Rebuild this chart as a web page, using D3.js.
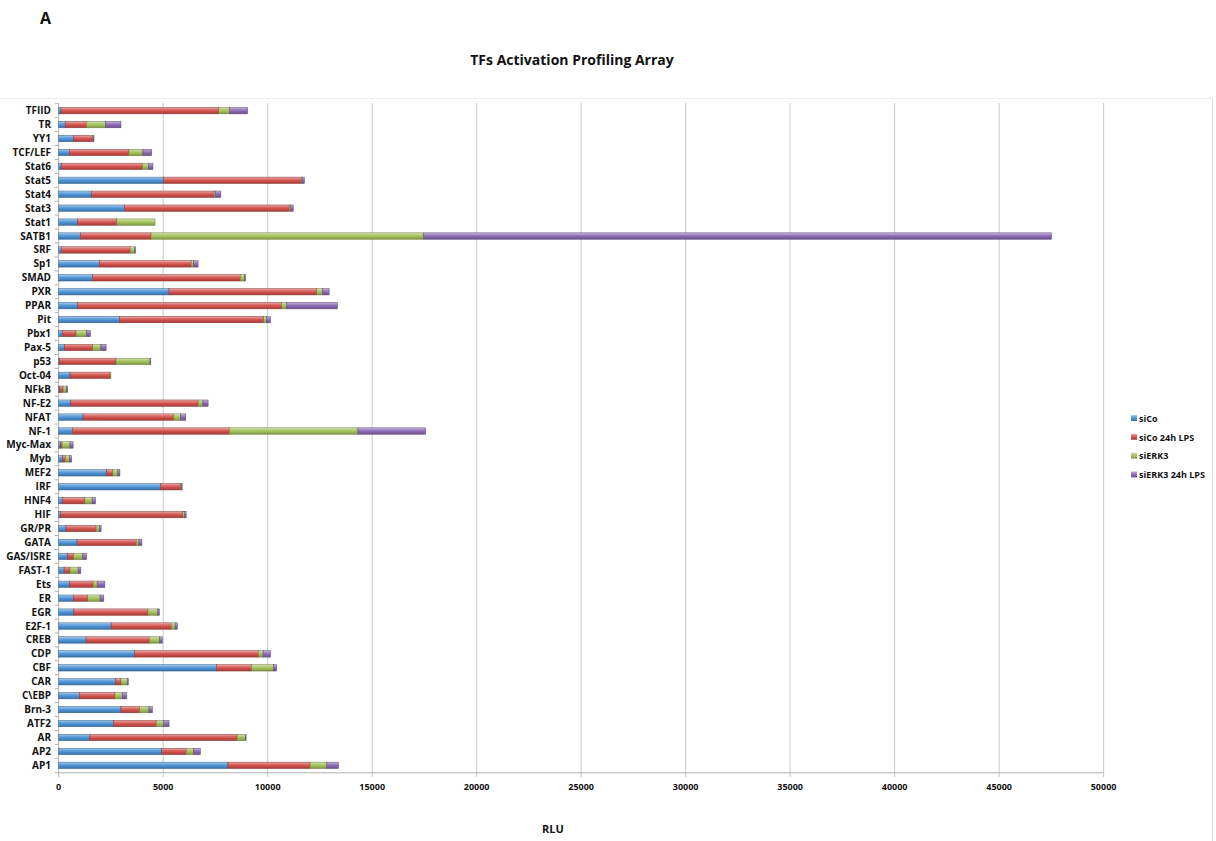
<!DOCTYPE html>
<html>
<head>
<meta charset="utf-8">
<script src="https://cdn.jsdelivr.net/npm/d3@7"></script>
<style>
html,body{margin:0;padding:0;background:#fff;}
svg{display:block;}
text{font-family:"Open Sans","Liberation Sans",sans-serif;font-weight:bold;fill:#111;}
</style>
</head>
<body>
<svg id="chart" width="1216" height="841"></svg>
<script>
// Categories, bottom to top
const categories = ["AP1","AP2","AR","ATF2","Brn-3","C\\EBP","CAR","CBF","CDP","CREB","E2F-1","EGR","ER","Ets","FAST-1","GAS/ISRE","GATA","GR/PR","HIF","HNF4","IRF","MEF2","Myb","Myc-Max","NF-1","NFAT","NF-E2","NFkB","Oct-04","p53","Pax-5","Pbx1","Pit","PPAR","PXR","SMAD","Sp1","SRF","SATB1","Stat1","Stat3","Stat4","Stat5","Stat6","TCF/LEF","YY1","TR","TFIID"];
const seriesNames = ["siCo","siCo 24h LPS","siERK3","siERK3 24h LPS"];
const siCo =        [8100,4930,1490,2620,2980, 990,2720,7540,3630,1310,2510, 720, 700, 510, 260, 430, 880, 350,  80, 190,4880,2290, 180,  80, 660,1170, 580,  30, 540,  30, 270, 180,2910, 900,5280,1620,1940, 130, 1040, 900,3150,1570,5020, 140, 510, 700, 320, 110];
const siCoLPS =     [3930,1170,7050,2050, 890,1700, 260,1680,5920,3030,2880,3550, 690,1140, 280, 290,2830,1440,5860,1060, 960, 300, 140,  80,7500,4330,6090, 180,1920,2710,1360, 650,6900,9770,7070,7070,4400,3290, 3380,1880,7890,5870,6600,3860,2850, 930,1010,7550];
const siERK3 =      [ 800, 360, 390, 340, 450, 350, 300,1050, 230, 490, 180, 470, 590, 190, 390, 420, 130, 150,  90, 350,  30, 240, 190, 380,6160, 340, 230, 160,  20,1630, 390, 500, 130, 240, 270, 210, 120, 210,13045,1830,  60,  60,  30, 290, 670,  20, 910, 520];
const siERK3LPS =   [ 560, 320,  30, 270, 160, 220,  50, 160, 360, 130, 110,  80, 180, 370, 130, 200, 140,  90,  70, 160,  30, 100, 110, 150,3240, 240, 250,  60,   0,  10, 250, 190, 190,2430, 320,  30, 210,  50,30045,   0, 120, 260, 110, 220, 420,  20, 740, 860];
const xTicks = [0,5000,10000,15000,20000,25000,30000,35000,40000,45000,50000];
const colors = ["#4a92d6","#d2504b","#a2c159","#8a68b4"];

const rows = categories.map((c,i)=>({cat:c, siCo:siCo[i], siCoLPS:siCoLPS[i], siERK3:siERK3[i], siERK3LPS:siERK3LPS[i]}));
const keys = ["siCo","siCoLPS","siERK3","siERK3LPS"];
const stacked = d3.stack().keys(keys)(rows);

const svg = d3.select("#chart");
const x = d3.scaleLinear().domain([0,50000]).range([58.7,1103.6]);
const y = d3.scaleBand().domain(categories).range([772.3,103.7]).paddingInner(0.54).paddingOuter(0.27);

// gradients
const defs = svg.append("defs");
colors.forEach((c,i)=>{
  const g = defs.append("linearGradient").attr("id","g"+i).attr("x1",0).attr("y1",0).attr("x2",0).attr("y2",1);
  const light = d3.interpolateRgb(c,"#ffffff")(0.55);
  const dark = d3.rgb(c).darker(0.7);
  g.append("stop").attr("offset","0%").attr("stop-color",light);
  g.append("stop").attr("offset","30%").attr("stop-color",d3.interpolateRgb(c,"#ffffff")(0.2));
  g.append("stop").attr("offset","55%").attr("stop-color",c);
  g.append("stop").attr("offset","100%").attr("stop-color",dark);
});

// outer frame lines
svg.append("line").attr("x1",0).attr("x2",1212).attr("y1",98.5).attr("y2",98.5).attr("stroke","#ececec");
svg.append("line").attr("x1",1212.5).attr("x2",1212.5).attr("y1",98).attr("y2",841).attr("stroke","#dcdcdc");

// gridlines
svg.append("g").selectAll("line").data(xTicks.slice(1)).join("line")
  .attr("x1",d=>x(d)).attr("x2",d=>x(d)).attr("y1",103).attr("y2",777)
  .attr("stroke","#c9c9c9").attr("stroke-width",1);

// axes lines
svg.append("line").attr("x1",x(0)).attr("x2",x(0)).attr("y1",103).attr("y2",777).attr("stroke","#b0b0b0");
svg.append("line").attr("x1",x(0)-4).attr("x2",x(50000)).attr("y1",772.8).attr("y2",772.8).attr("stroke","#b0b0b0");
// category ticks
const bounds = categories.map(c=>y(c) - y.step()*y.paddingInner()/2);
svg.append("g").selectAll("line").data(bounds).join("line")
  .attr("x1",x(0)-4).attr("x2",x(0)).attr("y1",d=>d).attr("y2",d=>d).attr("stroke","#b0b0b0");

// bars
const groups = svg.append("g").selectAll("g").data(stacked).join("g")
  .attr("fill",(d,i)=>"url(#g"+i+")")
  .attr("stroke",(d,i)=>d3.rgb(colors[i]).darker(1.2))
  .attr("stroke-width",0.5);
groups.selectAll("rect").data(d=>d.filter(p=>p[1]-p[0]>0)).join("rect")
  .attr("x",d=>x(d[0]))
  .attr("y",d=>y(d.data.cat))
  .attr("width",d=>Math.max(0.8,x(d[1])-x(d[0])))
  .attr("height",y.bandwidth());

// y labels
svg.append("g").selectAll("text").data(categories).join("text")
  .attr("x",51).attr("y",d=>y(d)+y.bandwidth()/2)
  .attr("dy","0.35em").attr("text-anchor","end")
  .style("font-size","10px").text(d=>d);

// x tick labels
svg.append("g").selectAll("text").data(xTicks).join("text")
  .attr("x",d=>x(d)).attr("y",790).attr("text-anchor","middle")
  .style("font-size","9px").text(d=>d);

// titles
svg.append("text").attr("x",40).attr("y",24).style("font-size","16px").text("A");
svg.append("text").attr("x",572).attr("y",65).attr("text-anchor","middle").style("font-size","14px").text("TFs Activation Profiling Array");
svg.append("text").attr("x",553).attr("y",833).attr("text-anchor","middle").style("font-size","11px").text("RLU");

// legend
const lg = svg.append("g").selectAll("g").data(seriesNames).join("g")
  .attr("transform",(d,i)=>`translate(1131,${419+i*18.8})`);
lg.append("rect").attr("x",0).attr("y",-4).attr("width",6).attr("height",6)
  .attr("fill",(d,i)=>"url(#g"+i+")");
lg.append("text").attr("x",8).attr("y",0).attr("dy","0.3em").style("font-size","9px").text(d=>d);
</script>
</body>
</html>
